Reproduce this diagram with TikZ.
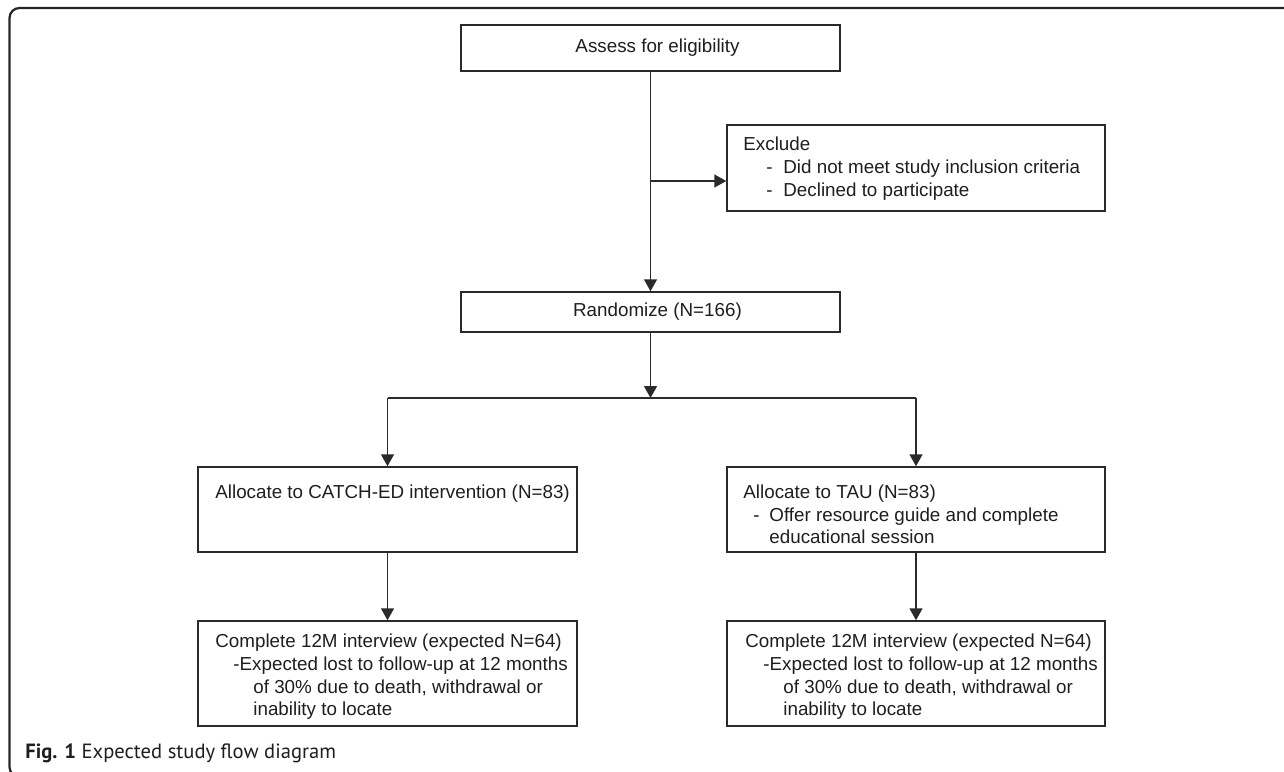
\documentclass[tikz,border=0pt]{standalone}
\usepackage{fontspec}
\setmainfont{Liberation Sans}
\newfontfamily\capfont{PT Sans}
\usetikzlibrary{arrows.meta}
\definecolor{linec}{HTML}{2A2A2A}
\definecolor{textc}{HTML}{1E1E1E}
\begin{document}
\begin{tikzpicture}[x=0.5pt,y=-0.5pt,
  box/.style={draw=linec, line width=0.75pt, inner sep=0pt, rectangle, text=textc, font=\fontsize{9.4}{11.5}\selectfont},
  txt/.style={anchor=base west, inner sep=0pt, text=textc, font=\fontsize{9.4}{11.5}\selectfont},
  conn/.style={draw=linec, line width=0.75pt},
  arr/.style={conn, -{Triangle[length=6pt,width=6.5pt]}}]
\useasboundingbox (0,0) rectangle (1284,771);
% outer frame
\draw[line width=1.1pt, black!85, rounded corners=5pt] (1300,8) -- (9.5,8) -- (9.5,777) -- (40,777);

% boxes
\node[box, minimum width=189.5pt, minimum height=23pt] (assess) at (650.5,48) {\hspace*{7pt}Assess for eligibility};
\node[box, minimum width=189pt, minimum height=43pt] (excl) at (916,168) {};
\node[box, minimum width=189.5pt, minimum height=20pt] (rand) at (650.5,312) {\hspace*{7pt}Randomize (N=166)};
\node[box, minimum width=189.5pt, minimum height=42.5pt] (allocL) at (387.5,509.5) {};
\node[box, minimum width=189pt, minimum height=42.5pt] (allocR) at (916,509.5) {};
\node[box, minimum width=189.5pt, minimum height=52.5pt] (compL) at (387.5,673.5) {};
\node[box, minimum width=189pt, minimum height=52.5pt] (compR) at (916,673.5) {};

% texts
\node[txt] (exA) at (743,150.5) {Exclude};
\node[txt] (exB) at (766,173.5) {-};
\node[txt] (exC) at (783,173.5) {Did not meet study inclusion criteria};
\node[txt] (exD) at (766,196.5) {-};
\node[txt] (exE) at (783,196.5) {Declined to participate};

\node[txt] (alA) at (215,498.5) {Allocate to CATCH-ED intervention (N=83)};

\node[txt] (arA) at (743,498.5) {Allocate to TAU (N=83)};
\node[txt] (arB) at (753,521) {-};
\node[txt] (arC) at (769,521) {Offer resource guide and complete};
\node[txt] (arD) at (769,543.5) {educational session};

\node[txt] (clA) at (215,647.5) {Complete 12M interview (expected N=64)};
\node[txt] (clB) at (233,670.5) {-Expected lost to follow-up at 12 months};
\node[txt] (clC) at (253,693.5) {of 30\% due to death, withdrawal or};
\node[txt] (clD) at (253,715.5) {inability to locate};

\node[txt] (crA) at (745,647.5) {Complete 12M interview (expected N=64)};
\node[txt] (crB) at (763,670.5) {-Expected lost to follow-up at 12 months};
\node[txt] (crC) at (783,693.5) {of 30\% due to death, withdrawal or};
\node[txt] (crD) at (783,715.5) {inability to locate};

% connectors
\coordinate (split) at (650.5,181);
\coordinate (fork) at (650.5,398);
\draw[arr] (assess.south) -- (rand.north);
\draw[arr] (split) -- (split -| excl.west);
\draw[arr] (rand.south) -- (fork);
\draw[conn] (allocL.north |- fork) -- (allocR.north |- fork);
\draw[arr] (allocL.north |- fork) -- (allocL.north);
\draw[arr] (allocR.north |- fork) -- (allocR.north);
\draw[arr] (allocL.south) -- (compL.north);
\draw[arr] (allocR.south) -- (compR.north);

% caption
\node[anchor=base west, inner sep=0pt, text=textc, font=\capfont\fontsize{10.3}{12}\selectfont] (cap) at (25,758) {\textbf{Fig. 1} Expected study flow diagram};
\end{tikzpicture}
\end{document}
